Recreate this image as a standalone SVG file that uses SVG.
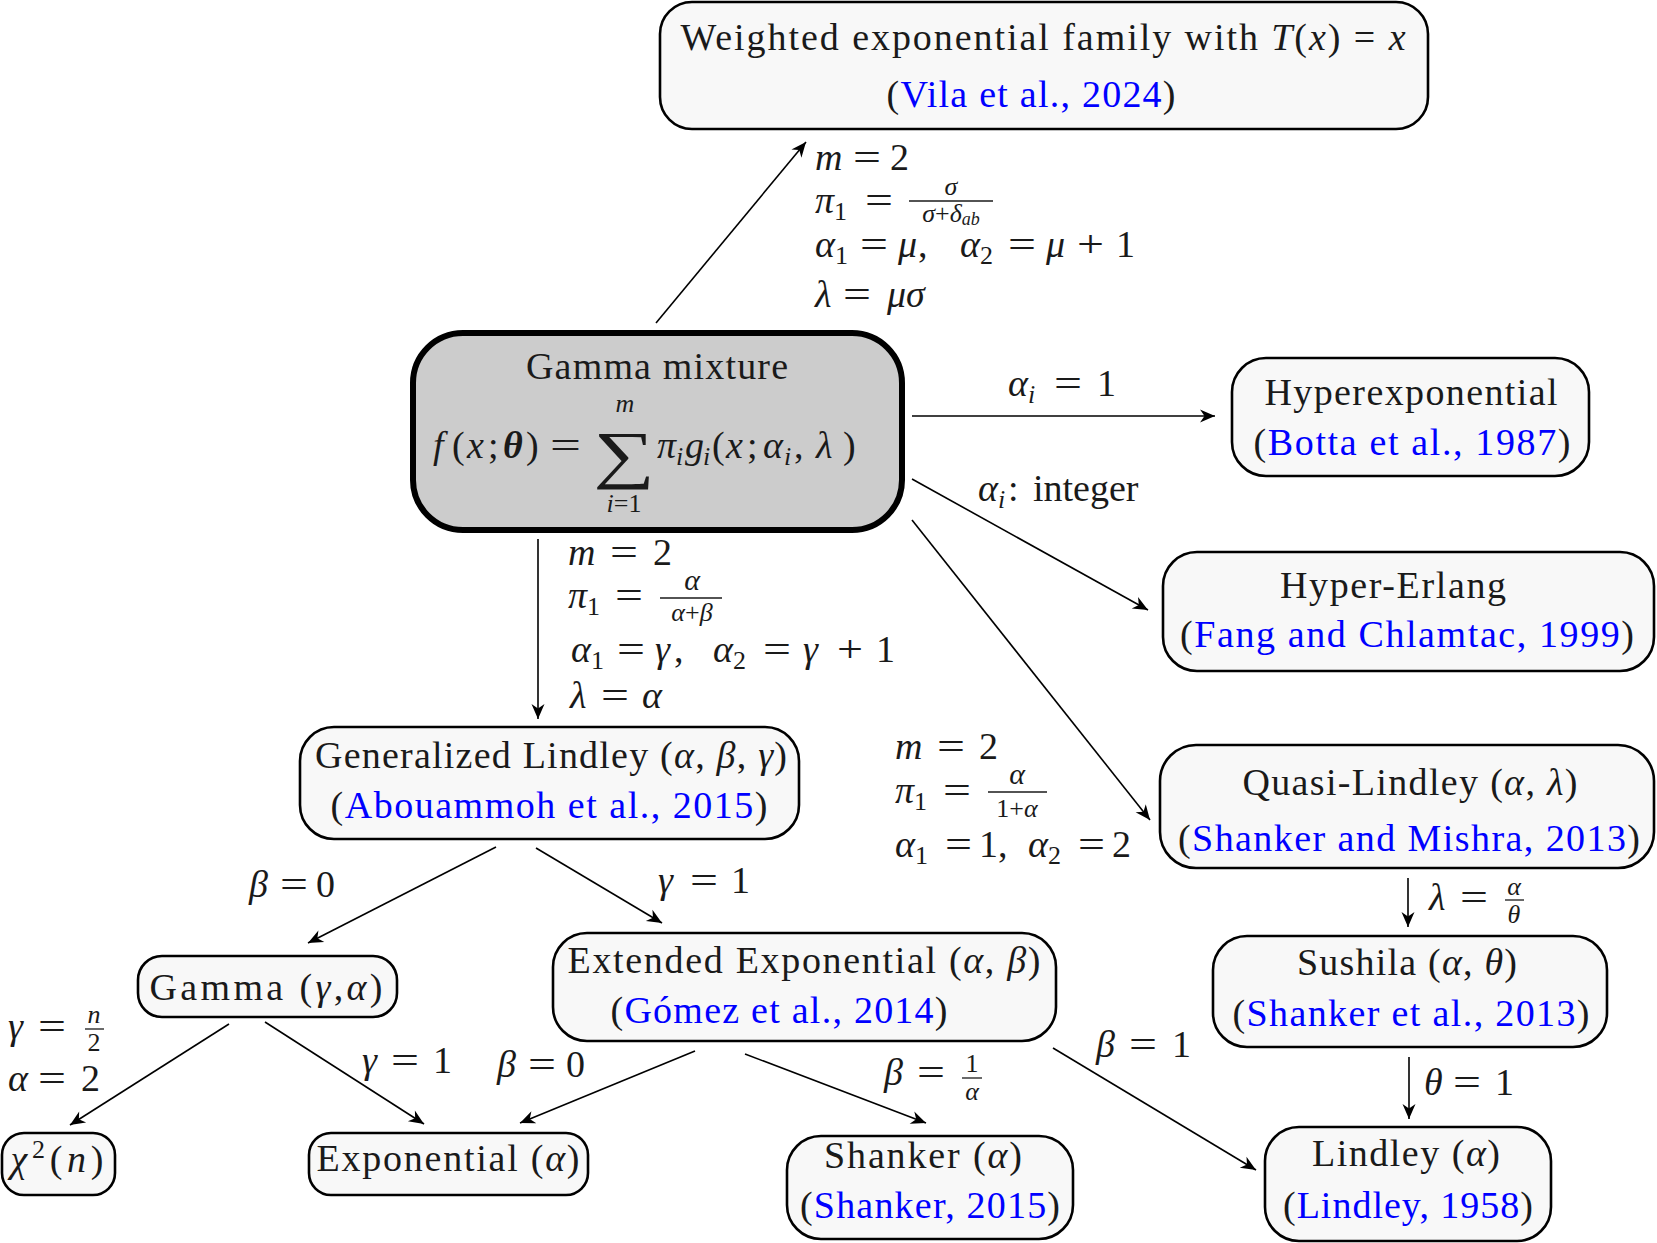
<svg xmlns="http://www.w3.org/2000/svg" width="1657" height="1243" viewBox="0 0 1657 1243">
<defs>
<style>
text{font-family:"Liberation Serif","DejaVu Serif",serif;font-size:38px;fill:#1a1a1a}
.m{text-anchor:middle}
.i{font-style:italic}
.b{font-weight:bold}
.sb{font-size:26px}
.fr{font-size:26px;text-anchor:middle}
.cite{fill:#0000ff}
.box{fill:#f8f8f8;stroke:#000;stroke-width:2.6}
.main{fill:#cccccc;stroke:#000;stroke-width:6}
.edge{fill:none;stroke:#000;stroke-width:1.6;marker-end:url(#ah)}
.fl{stroke:#1a1a1a;stroke-width:1.3}
</style>
<marker id="ah" markerUnits="userSpaceOnUse" markerWidth="18" markerHeight="16" viewBox="-16 -8 18 16" refX="0" refY="0" orient="auto">
<path d="M0,0 L-15,-6.5 L-10.5,0 L-15,6.5 Z" fill="#000"/>
</marker>
</defs>
<rect width="1657" height="1243" fill="#fff"/>

<g id="connectors">
<path class="edge" d="M656,323 L806,142"/>
<path class="edge" d="M912,416 L1215,416"/>
<path class="edge" d="M912,479 L1148,610"/>
<path class="edge" d="M912,520 L1150,820"/>
<path class="edge" d="M538,539 L538,719"/>
<path class="edge" d="M496,847 L308,943"/>
<path class="edge" d="M536,848 L662,923"/>
<path class="edge" d="M229,1024 L70,1125"/>
<path class="edge" d="M265,1022 L424,1124"/>
<path class="edge" d="M695,1051 L520,1123"/>
<path class="edge" d="M745,1054 L926,1123"/>
<path class="edge" d="M1053,1048 L1256,1170"/>
<path class="edge" d="M1408,878 L1408,927"/>
<path class="edge" d="M1409,1057 L1409,1119"/>
</g>

<g id="edge-labels">
<g id="lbl-weighted">
<text><tspan class="i" x="815" y="170">m</tspan><tspan x="890" y="170">2</tspan></text>
<text x="853" y="170" textLength="28" lengthAdjust="spacingAndGlyphs">=</text>
<text><tspan class="i" x="815" y="213">π</tspan><tspan class="sb" x="834" y="220">1</tspan></text>
<text x="865" y="213" textLength="28" lengthAdjust="spacingAndGlyphs">=</text>
<text class="fr i" x="951" y="195">σ</text>
<line class="fl" x1="909" y1="201" x2="993" y2="201"/>
<text class="fr" x="951" y="222"><tspan class="i">σ</tspan>+<tspan class="i">δ</tspan><tspan class="i" style="font-size:18px" dy="3">ab</tspan></text>
<text><tspan class="i" x="815" y="257">α</tspan><tspan class="sb" x="835" y="264">1</tspan><tspan class="i" x="898" y="257">μ</tspan><tspan x="918" y="257">,</tspan><tspan class="i" x="960" y="257">α</tspan><tspan class="sb" x="980" y="264">2</tspan><tspan class="i" x="1046" y="257">μ</tspan><tspan x="1116" y="257">1</tspan></text>
<text x="860" y="257" textLength="28" lengthAdjust="spacingAndGlyphs">=</text>
<text x="1008" y="257" textLength="28" lengthAdjust="spacingAndGlyphs">=</text>
<text x="1077" y="257" textLength="27" lengthAdjust="spacingAndGlyphs">+</text>
<text><tspan class="i" x="815" y="307">λ</tspan><tspan class="i" x="887" y="307">μσ</tspan></text>
<text x="843" y="307" textLength="28" lengthAdjust="spacingAndGlyphs">=</text>
</g>
<g id="lbl-hyperexp">
<text><tspan class="i" x="1008" y="396">α</tspan><tspan class="sb i" x="1028" y="403">i</tspan><tspan x="1097" y="396">1</tspan></text>
<text x="1054" y="396" textLength="28" lengthAdjust="spacingAndGlyphs">=</text>
</g>
<text id="lbl-erlang"><tspan class="i" x="978" y="501">α</tspan><tspan class="sb i" x="998" y="508">i</tspan><tspan x="1008" y="501">:</tspan><tspan x="1033" y="501">integer</tspan></text>
<g id="lbl-genlindley">
<text><tspan class="i" x="568" y="565">m</tspan><tspan x="653" y="565">2</tspan></text>
<text x="610" y="565" textLength="28" lengthAdjust="spacingAndGlyphs">=</text>
<text><tspan class="i" x="568" y="608">π</tspan><tspan class="sb" x="587" y="615">1</tspan></text>
<text x="615" y="608" textLength="28" lengthAdjust="spacingAndGlyphs">=</text>
<text class="fr i" x="692" y="590" style="font-size:30px">α</text>
<line class="fl" x1="660" y1="598" x2="722" y2="598"/>
<text class="fr" x="692" y="621"><tspan class="i">α</tspan>+<tspan class="i">β</tspan></text>
<text><tspan class="i" x="571" y="662">α</tspan><tspan class="sb" x="591" y="669">1</tspan><tspan class="i" x="655" y="662">γ</tspan><tspan x="674" y="662">,</tspan><tspan class="i" x="713" y="662">α</tspan><tspan class="sb" x="733" y="669">2</tspan><tspan class="i" x="803" y="662">γ</tspan><tspan x="876" y="662">1</tspan></text>
<text x="617" y="662" textLength="28" lengthAdjust="spacingAndGlyphs">=</text>
<text x="763" y="662" textLength="28" lengthAdjust="spacingAndGlyphs">=</text>
<text x="837" y="662" textLength="26" lengthAdjust="spacingAndGlyphs">+</text>
<text><tspan class="i" x="570" y="708">λ</tspan><tspan class="i" x="642" y="708">α</tspan></text>
<text x="601" y="708" textLength="28" lengthAdjust="spacingAndGlyphs">=</text>
</g>
<g id="lbl-quasi">
<text><tspan class="i" x="895" y="759">m</tspan><tspan x="979" y="759">2</tspan></text>
<text x="937" y="759" textLength="28" lengthAdjust="spacingAndGlyphs">=</text>
<text><tspan class="i" x="895" y="803">π</tspan><tspan class="sb" x="914" y="810">1</tspan></text>
<text x="943" y="803" textLength="28" lengthAdjust="spacingAndGlyphs">=</text>
<text class="fr i" x="1017" y="784" style="font-size:30px">α</text>
<line class="fl" x1="988" y1="792" x2="1047" y2="792"/>
<text class="fr" x="1017" y="817">1+<tspan class="i">α</tspan></text>
<text><tspan class="i" x="895" y="857">α</tspan><tspan class="sb" x="915" y="864">1</tspan><tspan x="979" y="857">1,</tspan><tspan class="i" x="1028" y="857">α</tspan><tspan class="sb" x="1048" y="864">2</tspan><tspan x="1112" y="857">2</tspan></text>
<text x="945" y="857" textLength="27" lengthAdjust="spacingAndGlyphs">=</text>
<text x="1078" y="857" textLength="27" lengthAdjust="spacingAndGlyphs">=</text>
</g>
<g id="lbl-gl-gamma">
<text><tspan class="i" x="249" y="897">β</tspan><tspan x="316" y="897">0</tspan></text>
<text x="280" y="897" textLength="28" lengthAdjust="spacingAndGlyphs">=</text>
</g>
<g id="lbl-gl-ext">
<text><tspan class="i" x="658" y="893">γ</tspan><tspan x="731" y="893">1</tspan></text>
<text x="690" y="893" textLength="28" lengthAdjust="spacingAndGlyphs">=</text>
</g>
<g id="lbl-chi">
<text class="i" x="8" y="1039">γ</text>
<text x="38" y="1039" textLength="28" lengthAdjust="spacingAndGlyphs">=</text>
<text class="fr i" x="94" y="1023">n</text>
<line class="fl" x1="85" y1="1029" x2="104" y2="1029"/>
<text class="fr" x="94" y="1051">2</text>
<text><tspan class="i" x="8" y="1091">α</tspan><tspan x="81" y="1091">2</tspan></text>
<text x="38" y="1091" textLength="28" lengthAdjust="spacingAndGlyphs">=</text>
</g>
<g id="lbl-gamma-exp">
<text><tspan class="i" x="362" y="1073">γ</tspan><tspan x="433" y="1073">1</tspan></text>
<text x="391" y="1073" textLength="28" lengthAdjust="spacingAndGlyphs">=</text>
</g>
<g id="lbl-ext-exp">
<text><tspan class="i" x="497" y="1077">β</tspan><tspan x="566" y="1077">0</tspan></text>
<text x="528" y="1077" textLength="28" lengthAdjust="spacingAndGlyphs">=</text>
</g>
<g id="lbl-ext-shanker">
<text class="i" x="884" y="1085">β</text>
<text x="917" y="1085" textLength="28" lengthAdjust="spacingAndGlyphs">=</text>
<text class="fr" x="972" y="1072">1</text>
<line class="fl" x1="962" y1="1078" x2="982" y2="1078"/>
<text class="fr i" x="972" y="1100">α</text>
</g>
<g id="lbl-ext-lindley">
<text><tspan class="i" x="1096" y="1057">β</tspan><tspan x="1172" y="1057">1</tspan></text>
<text x="1129" y="1057" textLength="28" lengthAdjust="spacingAndGlyphs">=</text>
</g>
<g id="lbl-quasi-sushila">
<text class="i" x="1429" y="910">λ</text>
<text x="1460" y="910" textLength="28" lengthAdjust="spacingAndGlyphs">=</text>
<text class="fr i" x="1514" y="895">α</text>
<line class="fl" x1="1505" y1="900" x2="1524" y2="900"/>
<text class="fr i" x="1514" y="923">θ</text>
</g>
<g id="lbl-sushila-lindley">
<text><tspan class="i" x="1424" y="1095">θ</tspan><tspan x="1495" y="1095">1</tspan></text>
<text x="1453" y="1095" textLength="28" lengthAdjust="spacingAndGlyphs">=</text>
</g>
</g>

<g id="n-weighted">
<rect class="box" x="660" y="2" width="768" height="127" rx="32"/>
<text class="m" x="1043" y="50" textLength="725">Weighted exponential family with <tspan class="i">T</tspan>(<tspan class="i">x</tspan>) = <tspan class="i">x</tspan></text>
<text class="m" x="1031" y="107" textLength="289">(<tspan class="cite">Vila et al., 2024</tspan>)</text>
</g>

<g id="n-gammamix">
<rect class="main" x="413" y="333" width="489" height="197" rx="50"/>
<text class="m" x="657" y="379" textLength="262">Gamma mixture</text>
<text><tspan class="i" x="433" y="458">f</tspan><tspan x="452" y="458">(</tspan><tspan class="i" x="467" y="458">x</tspan><tspan x="488" y="458">;</tspan><tspan class="i b" x="503" y="458">θ</tspan><tspan x="526" y="458">)</tspan></text>
<text x="550" y="458" textLength="31" lengthAdjust="spacingAndGlyphs">=</text>
<text class="m" transform="translate(624,476) scale(1.35,1)" style="font-size:64px">∑</text>
<text class="m i" x="625" y="412" style="font-size:26px">m</text>
<text class="m" x="624" y="512" style="font-size:26px"><tspan class="i">i</tspan>=1</text>
<text><tspan class="i" x="657" y="458">π</tspan><tspan class="sb i" x="676" y="465">i</tspan><tspan class="i" x="685" y="458">g</tspan><tspan class="sb i" x="703" y="465">i</tspan><tspan x="712" y="458">(</tspan><tspan class="i" x="726" y="458">x</tspan><tspan x="747" y="458">;</tspan><tspan class="i" x="763" y="458">α</tspan><tspan class="sb i" x="784" y="465">i</tspan><tspan x="794" y="458">,</tspan><tspan class="i" x="816" y="458">λ</tspan><tspan x="843" y="458">)</tspan></text>
</g>

<g id="n-hyperexp">
<rect class="box" x="1232" y="358" width="357" height="118" rx="34"/>
<text class="m" x="1411" y="405" textLength="293">Hyperexponential</text>
<text class="m" x="1412" y="455" textLength="317">(<tspan class="cite">Botta et al., 1987</tspan>)</text>
</g>

<g id="n-hypererlang">
<rect class="box" x="1163" y="552" width="491" height="119" rx="34"/>
<text class="m" x="1393" y="598" textLength="226">Hyper-Erlang</text>
<text class="m" x="1407" y="647" textLength="454">(<tspan class="cite">Fang and Chlamtac, 1999</tspan>)</text>
</g>

<g id="n-quasi">
<rect class="box" x="1160" y="745" width="494" height="123" rx="36"/>
<text class="m" x="1410" y="795" textLength="335">Quasi-Lindley (<tspan class="i">α</tspan>, <tspan class="i">λ</tspan>)</text>
<text class="m" x="1409" y="851" textLength="462">(<tspan class="cite">Shanker and Mishra, 2013</tspan>)</text>
</g>

<g id="n-sushila">
<rect class="box" x="1213" y="936" width="394" height="111" rx="34"/>
<text class="m" x="1407" y="975" textLength="220">Sushila (<tspan class="i">α</tspan>, <tspan class="i">θ</tspan>)</text>
<text class="m" x="1411" y="1026" textLength="357">(<tspan class="cite">Shanker et al., 2013</tspan>)</text>
</g>

<g id="n-lindley">
<rect class="box" x="1265" y="1127" width="286" height="114" rx="34"/>
<text class="m" x="1406" y="1166" textLength="188">Lindley (<tspan class="i">α</tspan>)</text>
<text class="m" x="1408" y="1218" textLength="250">(<tspan class="cite">Lindley, 1958</tspan>)</text>
</g>

<g id="n-genlindley">
<rect class="box" x="300" y="727" width="499" height="112" rx="34"/>
<text class="m" x="551" y="768" textLength="472">Generalized Lindley (<tspan class="i">α</tspan>, <tspan class="i">β</tspan>, <tspan class="i">γ</tspan>)</text>
<text class="m" x="549" y="818" textLength="437">(<tspan class="cite">Abouammoh et al., 2015</tspan>)</text>
</g>

<g id="n-gamma">
<rect class="box" x="138" y="956" width="259" height="61" rx="24"/>
<text class="m" x="266" y="1000" textLength="233">Gamma (<tspan class="i">γ</tspan>,<tspan class="i">α</tspan>)</text>
</g>

<g id="n-extexp">
<rect class="box" x="553" y="933" width="503" height="108" rx="34"/>
<text class="m" x="804" y="973" textLength="473">Extended Exponential (<tspan class="i">α</tspan>, <tspan class="i">β</tspan>)</text>
<text class="m" x="779" y="1023" textLength="337">(<tspan class="cite">Gómez et al., 2014</tspan>)</text>
</g>

<g id="n-chi2">
<rect class="box" x="2" y="1133" width="113" height="62" rx="22"/>
<text class="m" x="57" y="1172" textLength="93"><tspan class="i">χ</tspan><tspan class="sb" dy="-14">2</tspan><tspan dy="14">(</tspan><tspan class="i">n</tspan>)</text>
</g>

<g id="n-exp">
<rect class="box" x="309" y="1133" width="279" height="62" rx="22"/>
<text class="m" x="448" y="1171" textLength="263">Exponential (<tspan class="i">α</tspan>)</text>
</g>

<g id="n-shanker">
<rect class="box" x="787" y="1136" width="286" height="103" rx="34"/>
<text class="m" x="923" y="1168" textLength="198">Shanker (<tspan class="i">α</tspan>)</text>
<text class="m" x="930" y="1218" textLength="260">(<tspan class="cite">Shanker, 2015</tspan>)</text>
</g>
</svg>
